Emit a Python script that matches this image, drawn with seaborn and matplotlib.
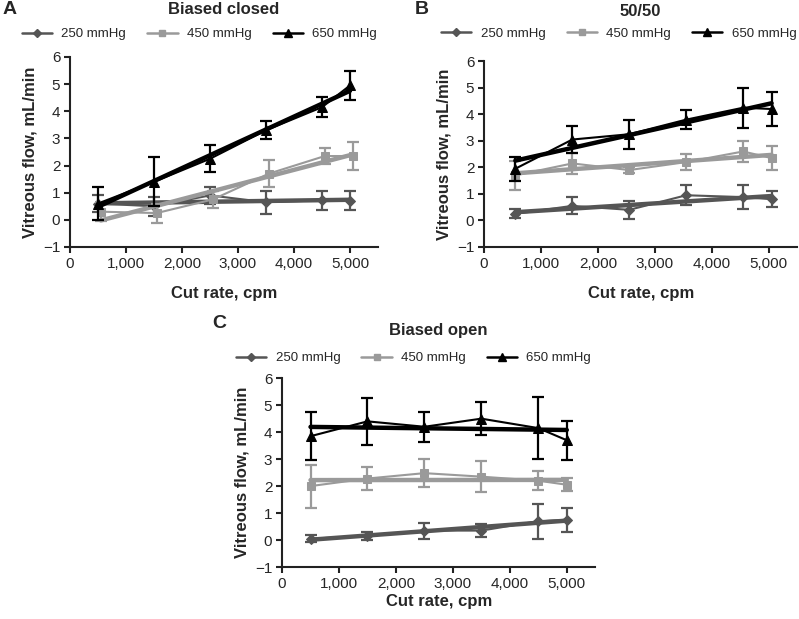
import numpy as np
import seaborn as sns
import matplotlib.pyplot as plt
from matplotlib.lines import Line2D

# cut rates (cpm) per panel / series, slightly offset as in the original
x_a_250 = [500, 1500, 2500, 3500, 4500, 5000]
x_a_450 = [550, 1550, 2550, 3550, 4550, 5050]
x_a_650 = [500, 1500, 2500, 3500, 4500, 5000]
x_b = [550, 1550, 2550, 3550, 4550, 5050]
x_c = [500, 1500, 2500, 3500, 4500, 5000]

# A - biased closed
a_250 = [0.6, 0.5, 0.9, 0.65, 0.72, 0.7]
a_250_err = [0.3, 0.35, 0.3, 0.42, 0.35, 0.35]
a_450 = [0.3, 0.25, 0.75, 1.7, 2.35, 2.35]
a_450_err = [0.35, 0.35, 0.3, 0.5, 0.3, 0.5]
a_650 = [0.6, 1.4, 2.25, 3.3, 4.15, 4.95]
a_650_err = [0.6, 0.9, 0.5, 0.33, 0.38, 0.55]

# B - 50/50
b_250 = [0.25, 0.55, 0.4, 0.95, 0.88, 0.8]
b_250_err = [0.17, 0.32, 0.35, 0.37, 0.45, 0.3]
b_450 = [1.7, 2.15, 1.9, 2.2, 2.6, 2.35]
b_450_err = [0.55, 0.4, 0.1, 0.3, 0.4, 0.45]
b_650 = [1.95, 3.05, 3.25, 3.8, 4.25, 4.2]
b_650_err = [0.45, 0.5, 0.55, 0.35, 0.75, 0.65]

# C - biased open
c_250 = [0.05, 0.15, 0.35, 0.35, 0.7, 0.75]
c_250_err = [0.12, 0.15, 0.3, 0.25, 0.65, 0.45]
c_450 = [2.0, 2.28, 2.48, 2.35, 2.2, 2.05]
c_450_err = [0.8, 0.42, 0.52, 0.58, 0.35, 0.25]
c_650 = [3.85, 4.4, 4.2, 4.5, 4.15, 3.7]
c_650_err = [0.88, 0.88, 0.55, 0.6, 1.15, 0.72]

labels = ["250 mmHg", "450 mmHg", "650 mmHg"]
colors = ["#555555", "#9a9a9a", "#000000"]
markers = ["D", "s", "^"]
msizes = [5, 6, 7]

sns.set_style("ticks")
plt.rcParams['font.family'] = ['Liberation Sans', 'DejaVu Sans']

fig = plt.figure(figsize=(7.99, 6.19), dpi=100)
ax_a = fig.add_axes([0.0876, 0.601, 0.3855, 0.307])
ax_b = fig.add_axes([0.6058, 0.601, 0.392, 0.300])
ax_c = fig.add_axes([0.353, 0.084, 0.392, 0.305])

# (axes, title, title y, legend x, legend y, xlabel pad, series)
panels = [
    (ax_a, "Biased closed", 1.25, 0.42, 1.12, 11,
     [(x_a_250, a_250, a_250_err), (x_a_450, a_450, a_450_err), (x_a_650, a_650, a_650_err)]),
    (ax_b, "50/50", 1.27, 0.43, 1.15, 11,
     [(x_b, b_250, b_250_err), (x_b, b_450, b_450_err), (x_b, b_650, b_650_err)]),
    (ax_c, "Biased open", 1.254, 0.42, 1.106, 2,
     [(x_c, c_250, c_250_err), (x_c, c_450, c_450_err), (x_c, c_650, c_650_err)]),
]

for ax, title, ty, lx, ly, xpad, series in panels:
    for i, (xs, ys, es) in enumerate(series):
        c = colors[i]
        z = 2 + i
        ax.errorbar(xs, ys, yerr=es, fmt='none', ecolor=c, elinewidth=1.6,
                    capsize=4, capthick=1.6, zorder=z)
        sns.regplot(x=np.array(xs), y=np.array(ys), ax=ax, scatter=False, ci=None,
                    color=c, line_kws=dict(lw=3.2, zorder=z))
        sns.lineplot(x=xs, y=ys, ax=ax, color=c, lw=1.5, marker=markers[i],
                     markersize=msizes[i], markeredgecolor=c, zorder=z + 0.5)
    ax.set_xlim(0, 5500)
    ax.set_ylim(-1, 6)
    ax.set_xticks([0, 1000, 2000, 3000, 4000, 5000])
    ax.set_xticklabels(["0", "1,000", "2,000", "3,000", "4,000", "5,000"])
    ax.set_yticks(range(-1, 7))
    ax.set_yticklabels(["\u22121"] + [str(v) for v in range(0, 7)])
    ax.tick_params(labelsize=11, width=1.5, length=4, color="#222222", pad=3)
    for s in ["left", "bottom"]:
        ax.spines[s].set_linewidth(1.5)
        ax.spines[s].set_color("#222222")
    sns.despine(ax=ax)
    ax.set_xlabel("Cut rate, cpm", fontsize=12, fontweight="bold", labelpad=xpad)
    ax.set_ylabel("Vitreous flow, mL/min", fontsize=12, fontweight="bold", labelpad=4)
    ax.text(0.5, ty, title, transform=ax.transAxes, ha="center", va="center",
            fontsize=12, fontweight="bold")
    handles = [Line2D([], [], color=colors[i], lw=1.8, marker=markers[i],
                      markersize=msizes[i] - 1, markeredgecolor=colors[i]) for i in range(3)]
    ax.legend(handles, labels, loc="center", bbox_to_anchor=(lx, ly), ncol=3,
              frameon=False, fontsize=9.5, handlelength=2.3, columnspacing=1.6,
              handletextpad=0.7, borderaxespad=0, borderpad=0)

fig.text(0.003, 0.985, "A", fontsize=14, fontweight="bold", va="center")
fig.text(0.519, 0.985, "B", fontsize=14, fontweight="bold", va="center")
fig.text(0.266, 0.478, "C", fontsize=14, fontweight="bold", va="center")

fig.savefig("out.png", dpi=100)
